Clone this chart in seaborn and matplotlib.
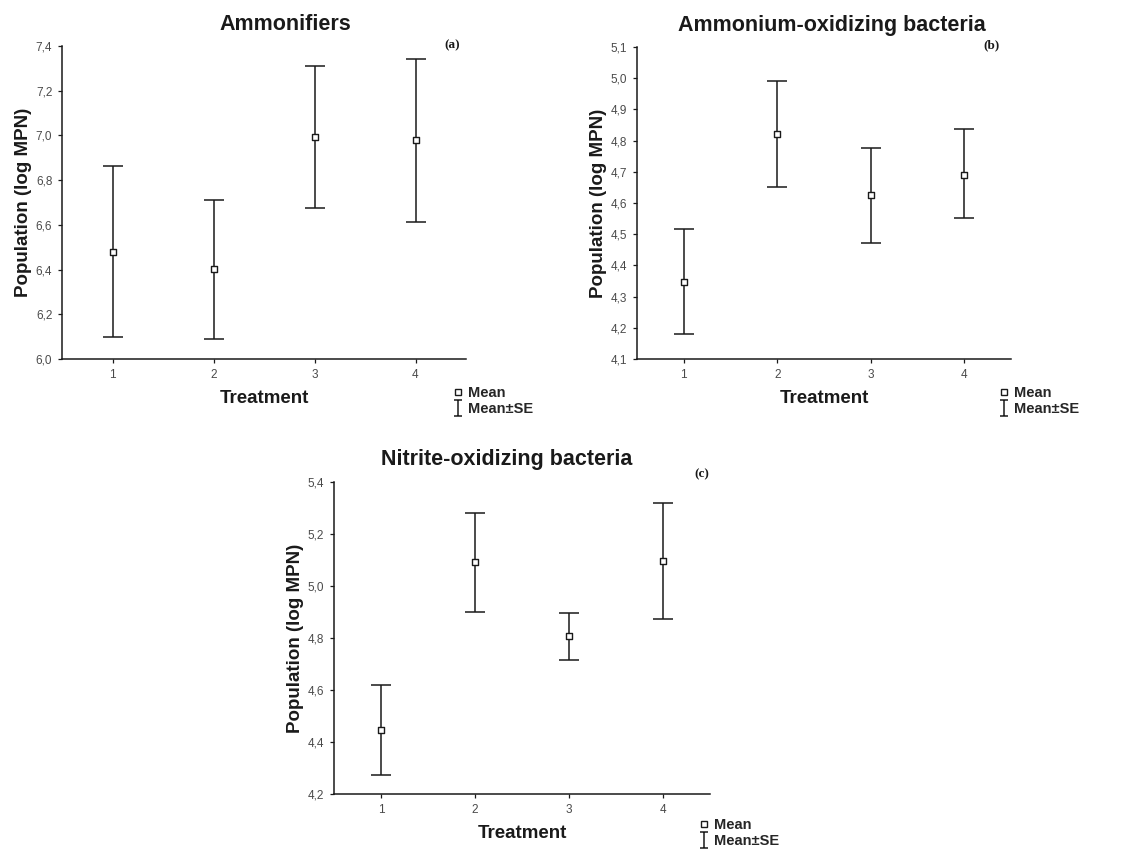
import numpy as np
import pandas as pd
import matplotlib
matplotlib.use("Agg")
import matplotlib.pyplot as plt
from matplotlib.lines import Line2D
from matplotlib.path import Path
import seaborn as sns

# Treatment levels
treatments = [1, 2, 3, 4]

# (a) Ammonifiers: mean and mean±SE limits (log MPN)
amm_mean = [6.478, 6.402, 6.994, 6.978]
amm_low = [6.097, 6.088, 6.676, 6.615]
amm_high = [6.862, 6.711, 7.310, 7.341]
amm_yticks = [6.0, 6.2, 6.4, 6.6, 6.8, 7.0, 7.2, 7.4]

# (b) Ammonium-oxidizing bacteria
aob_mean = [4.346, 4.820, 4.625, 4.691]
aob_low = [4.180, 4.650, 4.472, 4.551]
aob_high = [4.517, 4.992, 4.775, 4.836]
aob_yticks = [4.1, 4.2, 4.3, 4.4, 4.5, 4.6, 4.7, 4.8, 4.9, 5.0, 5.1]

# (c) Nitrite-oxidizing bacteria
nob_mean = [4.447, 5.092, 4.809, 5.098]
nob_low = [4.273, 4.899, 4.717, 4.875]
nob_high = [4.619, 5.281, 4.898, 5.318]
nob_yticks = [4.2, 4.4, 4.6, 4.8, 5.0, 5.2, 5.4]

titles = ["Ammonifiers", "Ammonium-oxidizing bacteria", "Nitrite-oxidizing bacteria"]
tags = ["(a)", "(b)", "(c)"]
xlabel = "Treatment"
ylabel = "Population (log MPN)"
legend_labels = ["Mean", "Mean±SE"]

sns.set_theme(style="ticks")
plt.rcParams["font.family"] = ["Liberation Sans", "DejaVu Sans"]

fig = plt.figure(figsize=(11.24, 8.51), dpi=100)
W, H = 1124, 851

INK = "#1a1a1a"

# I-beam glyph used as the legend key for the SE whiskers
IBEAM = Path(
    [(-0.5, -1), (0.5, -1), (0, -1), (0, 1), (-0.5, 1), (0.5, 1)],
    [Path.MOVETO, Path.LINETO, Path.MOVETO, Path.LINETO, Path.MOVETO, Path.LINETO],
)


def px_axes(left, top, right, bottom):
    return fig.add_axes([left / W, 1 - bottom / H, (right - left) / W, (bottom - top) / H])


panels = [
    dict(box=(62, 46, 466, 359), mean=amm_mean, lo=amm_low, hi=amm_high, yt=amm_yticks,
         title_xy=(285, 25), tag_xy=(452, 45), leg_xy=(453, 386)),
    dict(box=(637, 47, 1011, 359), mean=aob_mean, lo=aob_low, hi=aob_high, yt=aob_yticks,
         title_xy=(832, 25), tag_xy=(992, 45), leg_xy=(999, 386)),
    dict(box=(334, 482, 710, 794), mean=nob_mean, lo=nob_low, hi=nob_high, yt=nob_yticks,
         title_xy=(507, 460), tag_xy=(702, 474), leg_xy=(699, 818)),
]

for i, p in enumerate(panels):
    ax = px_axes(*p["box"])
    df = pd.DataFrame({"Treatment": treatments, "Mean": p["mean"],
                       "Low": p["lo"], "High": p["hi"]})
    yerr = np.vstack([df["Mean"] - df["Low"], df["High"] - df["Mean"]])
    ax.errorbar(df["Treatment"], df["Mean"], yerr=yerr, fmt="none",
                ecolor=INK, elinewidth=1.1, capsize=7.5, capthick=1.1, zorder=2)
    sns.scatterplot(data=df, x="Treatment", y="Mean", ax=ax, marker="s", s=22,
                    facecolor="white", edgecolor=INK, linewidth=1.0, zorder=3,
                    legend=False)

    ax.set_xlim(0.5, 4.5)
    ax.set_ylim(p["yt"][0], p["yt"][-1])
    ax.set_xticks(treatments)
    ax.set_xticklabels([str(t) for t in treatments])
    ax.set_yticks(p["yt"])
    ax.set_yticklabels([f"{v:.1f}".replace(".", ",") for v in p["yt"]])
    ax.tick_params(axis="both", labelsize=8.5, labelcolor="#4a4a4a", color=INK,
                   length=3, width=0.9, direction="out", pad=4)
    for s in ["top", "right"]:
        ax.spines[s].set_visible(False)
    for s in ["left", "bottom"]:
        ax.spines[s].set_color(INK)
        ax.spines[s].set_linewidth(1.1)

    ax.set_xlabel(xlabel, fontsize=13.5, fontweight="bold", color=INK, labelpad=7)
    ax.set_ylabel(ylabel, fontsize=13.5, fontweight="bold", color=INK, labelpad=3)

    tx, ty = p["title_xy"]
    fig.text(tx / W, 1 - ty / H, titles[i], ha="center", va="center",
             fontsize=15.5, fontweight="bold", color=INK)
    gx, gy = p["tag_xy"]
    fig.text(gx / W, 1 - gy / H, tags[i], ha="center", va="center",
             fontsize=9.5, fontweight="bold", color=INK,
             family=["Liberation Serif", "DejaVu Serif"])

    h_mean = Line2D([], [], marker="s", ls="none", markersize=4.5,
                    markerfacecolor="white", markeredgecolor=INK, markeredgewidth=1.0)
    h_se = Line2D([], [], marker=IBEAM, ls="none", markersize=12,
                  markerfacecolor="none", markeredgecolor=INK, markeredgewidth=1.1)
    lx, ly = p["leg_xy"]
    ax.legend([h_mean, h_se], legend_labels, loc="upper left",
              bbox_to_anchor=(lx / W, 1 - ly / H), bbox_transform=fig.transFigure,
              frameon=False, handlelength=0.7, handletextpad=0.35,
              labelspacing=0.15, borderpad=0, borderaxespad=0,
              prop={"weight": "bold", "size": 10.5})

fig.savefig("out.png", dpi=100, facecolor="white")
